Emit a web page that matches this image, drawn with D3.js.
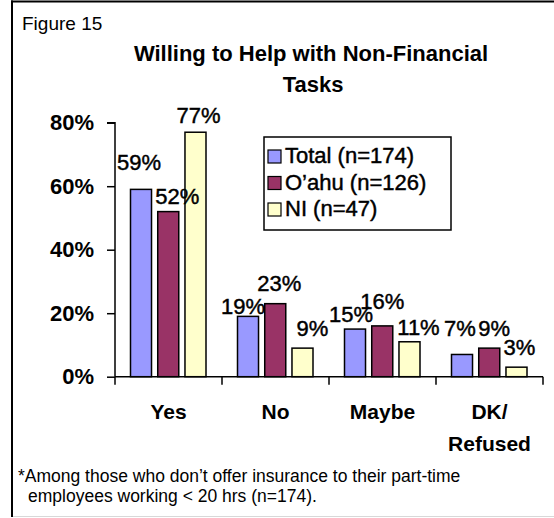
<!DOCTYPE html>
<html>
<head>
<meta charset="utf-8">
<script src="https://cdn.jsdelivr.net/npm/d3@7/dist/d3.min.js"></script>
<style>
  html, body { margin: 0; padding: 0; background: #fff; }
  svg { display: block; }
  text { font-family: "Liberation Sans", Arial, sans-serif; fill: #000; }
  text.val, .item text { stroke: #000; stroke-width: 0.45px; }
</style>
</head>
<body>
<svg id="chart" width="554" height="518"></svg>
<script>
// Response categories and survey groups
const categories = ["Yes", "No", "Maybe", "DK/\nRefused"];
const seriesNames = ["Total (n=174)", "O\u2019ahu (n=126)", "NI (n=47)"];
const seriesColors = ["#9999FF", "#993366", "#FFFFCC"];

// Percent answering each category, one array per group
const totalValues = [59, 19, 15, 7];
const oahuValues  = [52, 23, 16, 9];
const niValues    = [77, 9, 11, 3];

const yTicks = [0, 20, 40, 60, 80];

// Hand-placed label nudges [dx, dy] per category, per series
const labelNudges = [
  [[-2, -19], [9, -8], [3, -9]],
  [[-5, -2], [4, -13], [10, -12]],
  [[-4, -7], [0, -17], [9, -7]],
  [[-2, -18], [5, -12], [3, -12]]
];

const seriesValues = [totalValues, oahuValues, niValues];

const svg = d3.select("#chart");

// Outer frame: top and left rules, faint bottom rule
svg.append("line").attr("x1", 11).attr("x2", 554).attr("y1", 1.5).attr("y2", 1.5)
  .attr("stroke", "#000").attr("stroke-width", 2);
svg.append("line").attr("x1", 12).attr("x2", 12).attr("y1", 0.5).attr("y2", 517)
  .attr("stroke", "#000").attr("stroke-width", 2);
svg.append("line").attr("x1", 13).attr("x2", 554).attr("y1", 516.5).attr("y2", 516.5)
  .attr("stroke", "#d8d8d8").attr("stroke-width", 1);

svg.append("text").attr("x", 22).attr("y", 30)
  .style("font-size", "19px").text("Figure 15");

// Title, two lines
const title = svg.append("text").attr("text-anchor", "middle")
  .style("font-size", "22px").style("font-weight", "bold");
title.append("tspan").attr("x", 311).attr("y", 61).text("Willing to Help with Non-Financial");
title.append("tspan").attr("x", 313).attr("y", 92).text("Tasks");

// Scales
const x0 = d3.scaleBand().domain(categories).range([115, 543]).padding(0);
const x1 = d3.scaleBand().domain(d3.range(seriesNames.length))
  .range([15.5, 91]).paddingInner(0.228).paddingOuter(0);
const y = d3.scaleLinear().domain([0, 80]).range([376.7, 122.7]);

// Bars
const groups = svg.append("g").selectAll("g")
  .data(categories)
  .join("g")
  .attr("transform", d => `translate(${x0(d)},0)`);

groups.selectAll("rect")
  .data((d, ci) => seriesValues.map((vals, si) => ({ si, ci, v: vals[ci] })))
  .join("rect")
  .attr("x", d => x1(d.si))
  .attr("y", d => y(d.v))
  .attr("width", x1.bandwidth())
  .attr("height", d => y(0) - y(d.v))
  .attr("fill", d => seriesColors[d.si])
  .attr("stroke", "#000")
  .attr("stroke-width", 1.5);

// Value labels
groups.selectAll("text.val")
  .data((d, ci) => seriesValues.map((vals, si) => ({ si, ci, v: vals[ci] })))
  .join("text")
  .attr("class", "val")
  .attr("text-anchor", "middle")
  .attr("x", d => x1(d.si) + x1.bandwidth() / 2 + labelNudges[d.ci][d.si][0])
  .attr("y", d => y(d.v) + labelNudges[d.ci][d.si][1])
  .style("font-size", "22px")
  .text(d => d.v + "%");

// Y axis
const yAxis = svg.append("g").attr("transform", "translate(115,0)")
  .call(d3.axisLeft(y).tickValues(yTicks).tickFormat(d => d + "%").tickSize(8).tickPadding(13));
yAxis.select(".domain").attr("stroke", "#000").attr("stroke-width", 1.5).attr("d", `M-8,${y(80)}H0V${y(0)}`);
yAxis.selectAll(".tick line").attr("stroke", "#000").attr("stroke-width", 1.5);
yAxis.selectAll(".tick text")
  .style("font-family", "'Liberation Sans', Arial, sans-serif")
  .style("font-size", "22px").style("font-weight", "bold").attr("fill", "#000");

// X axis with ticks at band boundaries
const xAxis = svg.append("g").attr("transform", `translate(0,${y(0)})`);
xAxis.append("line").attr("x1", 115).attr("x2", 543).attr("y1", 0).attr("y2", 0)
  .attr("stroke", "#000").attr("stroke-width", 1.5);
const boundaries = categories.map(c => x0(c)).concat([x0.range()[1]]);
xAxis.selectAll("line.tk").data(boundaries).join("line").attr("class", "tk")
  .attr("x1", d => d).attr("x2", d => d).attr("y1", 0).attr("y2", 8)
  .attr("stroke", "#000").attr("stroke-width", 1.5);

const catLabels = xAxis.selectAll("text.cat").data(categories).join("text")
  .attr("class", "cat").attr("text-anchor", "middle")
  .style("font-size", "21px").style("font-weight", "bold");
catLabels.each(function (d) {
  const lines = d.split("\n");
  const t = d3.select(this);
  lines.forEach((ln, i) => {
    t.append("tspan").attr("x", x0(d) + x0.bandwidth() / 2).attr("y", 42 + i * 32).text(ln);
  });
});

// Legend
const legend = svg.append("g").attr("transform", "translate(264,137)");
legend.append("rect").attr("width", 187).attr("height", 93)
  .attr("fill", "#fff").attr("stroke", "#000").attr("stroke-width", 1.5);
const items = legend.selectAll("g.item").data(seriesNames).join("g")
  .attr("class", "item")
  .attr("transform", (d, i) => `translate(4,${13 + i * 26.5})`);
items.append("rect").attr("width", 13).attr("height", 13)
  .attr("fill", (d, i) => seriesColors[i]).attr("stroke", "#000").attr("stroke-width", 1.2);
items.append("text").attr("x", 17).attr("y", 13)
  .style("font-size", "22px").text(d => d);

// Footnote
const note = svg.append("text").style("font-size", "17.5px");
note.append("tspan").attr("x", 18).attr("y", 482)
  .text("*Among those who don\u2019t offer insurance to their part-time");
note.append("tspan").attr("x", 28).attr("y", 502)
  .text("employees working < 20 hrs (n=174).");
</script>
</body>
</html>
